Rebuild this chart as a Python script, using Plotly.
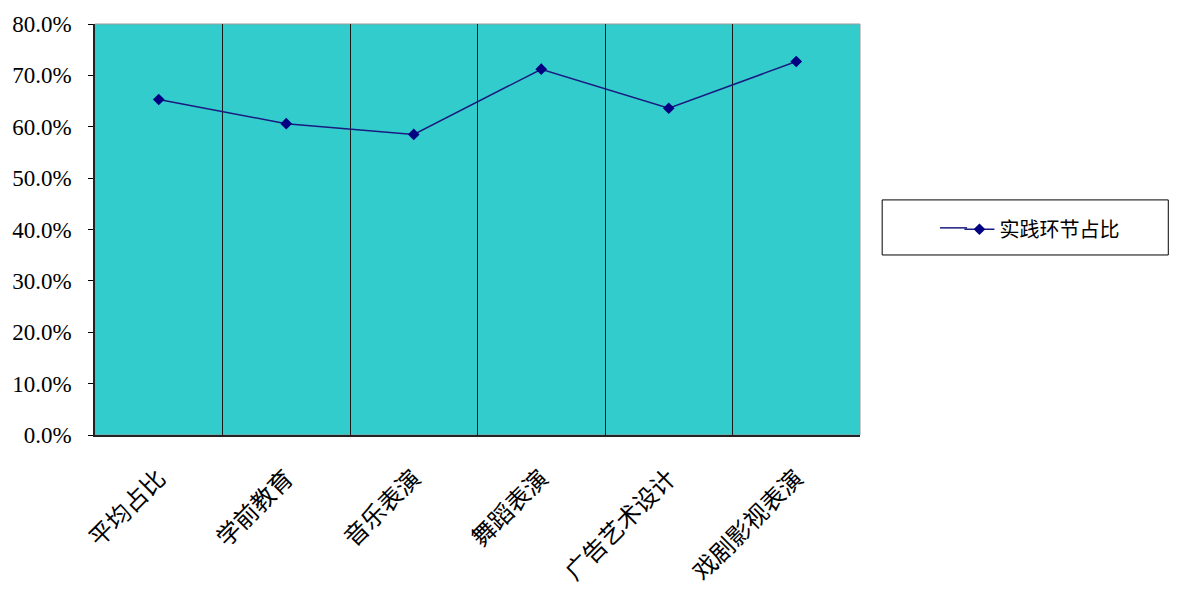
import plotly.graph_objects as go

categories = ["平均占比", "学前教育", "音乐表演", "舞蹈表演", "广告艺术设计", "戏剧影视表演"]
values = [0.653, 0.606, 0.585, 0.712, 0.636, 0.727]
series_name = "实践环节占比"
y_ticks = [0, 0.1, 0.2, 0.3, 0.4, 0.5, 0.6, 0.7, 0.8]

fig = go.Figure()
fig.add_trace(go.Scatter(
    x=categories, y=values, name=series_name, mode="lines+markers",
    line=dict(color="#1a1a80", width=1.5),
    marker=dict(symbol="diamond", size=9, color="#000080"),
))

serif = "Liberation Serif"
cjk = "Noto Sans CJK SC"

fig.update_layout(
    width=1162, height=578,
    margin=dict(l=87, r=310, t=16, b=151, autoexpand=False),
    paper_bgcolor="white", plot_bgcolor="#33CCCC",
    showlegend=True,
    legend=dict(x=1.13, y=0.548, xanchor="left", yanchor="top",
                font=dict(family=cjk, size=20, color="black"),
                itemwidth=30,
                bgcolor="rgba(0,0,0,0)", borderwidth=0),
    shapes=[
        dict(type="rect", xref="paper", yref="paper", x0=0, x1=1, y0=0, y1=1,
             line=dict(color="#999999", width=1), layer="below"),
        dict(type="rect", xref="paper", yref="paper", x0=1.029, x1=1.403, y0=0.438, y1=0.572,
             line=dict(color="black", width=1), fillcolor="rgba(0,0,0,0)"),
        dict(type="line", xref="paper", yref="paper", x0=1.1046, x1=1.14, y0=0.504, y1=0.504,
             line=dict(color="#1a1a80", width=1.5)),
    ],
)
fig.update_xaxes(
    type="category", tickson="boundaries", showgrid=True, gridcolor="#1a1a1a", gridwidth=1,
    showline=True, linecolor="#222222", linewidth=1.5,
    ticks="",
    tickangle=-45, tickfont=dict(family=cjk, size=24, color="black"),
    ticklabelstandoff=18, automargin=False,
    range=[-0.5, 5.5],
)
fig.update_yaxes(
    range=[0, 0.8], tickvals=y_ticks, tickformat=".1%",
    showgrid=False, zeroline=False,
    showline=True, linecolor="#222222", linewidth=1.5,
    ticks="outside", ticklen=5, tickcolor="black",
    tickfont=dict(family=serif, size=23, color="black"),
    ticklabelstandoff=12, automargin=False,
)
fig.write_html("out.html")
